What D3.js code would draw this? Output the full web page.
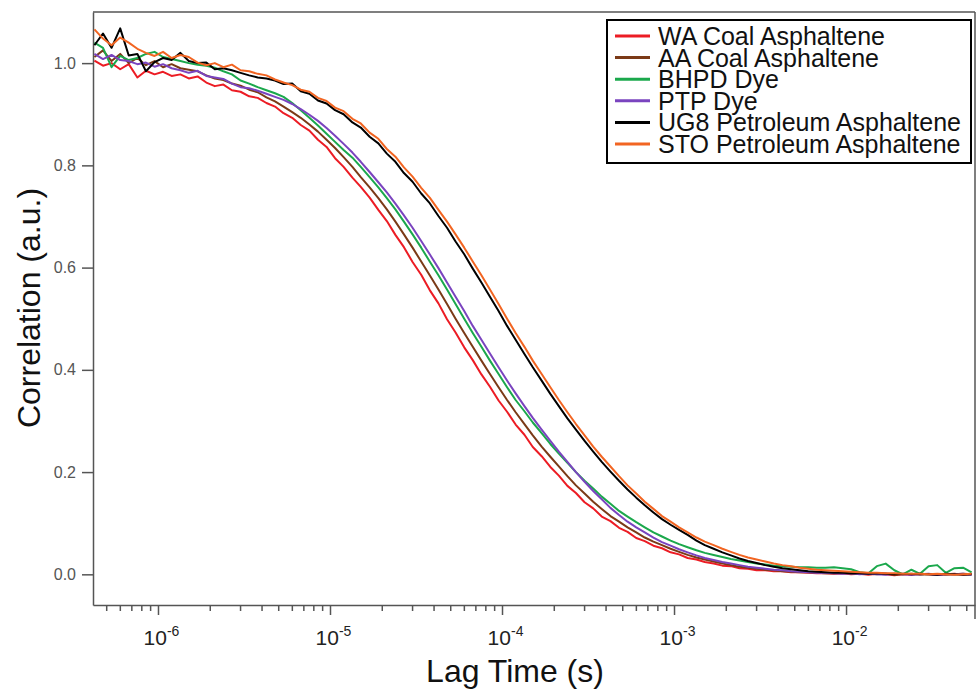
<!DOCTYPE html>
<meta charset="utf-8">
<style>
body { margin: 0; background: #fff; }
text { font-family: "Liberation Sans", Arial, sans-serif; }
</style>
<body>
<script src="https://d3js.org/d3.v7.min.js"></script>
<script>

    // lag times (s)
    var lagTime = [4.27e-7,4.79e-7,5.37e-7,6.03e-7,6.76e-7,7.59e-7,8.51e-7,9.55e-7,
        1.07e-6,1.20e-6,1.35e-6,1.51e-6,1.70e-6,1.91e-6,2.14e-6,2.40e-6,2.69e-6,3.02e-6,3.39e-6,3.80e-6,4.27e-6,4.79e-6,5.37e-6,6.03e-6,6.76e-6,7.59e-6,8.51e-6,9.55e-6,
        1.07e-5,1.20e-5,1.35e-5,1.51e-5,1.70e-5,1.91e-5,2.14e-5,2.40e-5,2.69e-5,3.02e-5,3.39e-5,3.80e-5,4.27e-5,4.79e-5,5.37e-5,6.03e-5,6.76e-5,7.59e-5,8.51e-5,9.55e-5,
        1.07e-4,1.20e-4,1.35e-4,1.51e-4,1.70e-4,1.91e-4,2.14e-4,2.40e-4,2.69e-4,3.02e-4,3.39e-4,3.80e-4,4.27e-4,4.79e-4,5.37e-4,6.03e-4,6.76e-4,7.59e-4,8.51e-4,9.55e-4,
        1.07e-3,1.20e-3,1.35e-3,1.51e-3,1.70e-3,1.91e-3,2.14e-3,2.40e-3,2.69e-3,3.02e-3,3.39e-3,3.80e-3,4.27e-3,4.79e-3,5.37e-3,6.03e-3,6.76e-3,7.59e-3,8.51e-3,9.55e-3,
        1.07e-2,1.20e-2,1.35e-2,1.51e-2,1.70e-2,1.91e-2,2.14e-2,2.40e-2,2.69e-2,3.02e-2,3.39e-2,3.80e-2,4.27e-2,4.79e-2,5.37e-2];

    var waCoal = [1.005,0.995,1.000,0.988,0.998,0.972,0.985,0.978,0.983,0.975,
        0.978,0.970,0.974,0.962,0.955,0.958,0.947,0.944,0.935,0.932,
        0.922,0.915,0.902,0.893,0.879,0.868,0.850,0.836,0.814,0.797,
        0.776,0.758,0.737,0.713,0.691,0.664,0.640,0.611,0.586,0.556,
        0.530,0.499,0.473,0.444,0.419,0.391,0.367,0.340,0.318,0.293,
        0.273,0.249,0.231,0.210,0.193,0.173,0.159,0.141,0.129,0.113,
        0.104,0.091,0.083,0.071,0.065,0.056,0.051,0.043,0.039,0.032,
        0.029,0.024,0.021,0.017,0.016,0.012,0.011,0.008,0.008,0.006,
        0.006,0.004,0.004,0.003,0.002,0.002,0.001,0.002,0.000,0.001,
        -0.001,0.001,0.000,-0.002,0.000,-0.001,0.001,0.000,-0.001,0.000,
        0.001,-0.001,0.000];

    var aaCoal = [1.012,1.025,1.004,1.018,1.000,1.010,0.996,1.004,0.992,0.998,
        0.990,0.987,0.984,0.976,0.970,0.967,0.960,0.956,0.948,0.943,
        0.933,0.925,0.915,0.904,0.893,0.880,0.866,0.850,0.834,0.816,
        0.797,0.777,0.757,0.736,0.714,0.690,0.665,0.639,0.612,0.585,
        0.557,0.529,0.500,0.472,0.445,0.418,0.392,0.366,0.341,0.317,
        0.294,0.272,0.250,0.230,0.211,0.192,0.174,0.158,0.142,0.128,
        0.114,0.103,0.092,0.082,0.072,0.064,0.057,0.050,0.044,0.038,
        0.033,0.029,0.025,0.021,0.018,0.015,0.013,0.011,0.009,0.008,
        0.006,0.005,0.004,0.004,0.003,0.002,0.002,0.002,0.001,0.001,
        0.001,0.000,0.001,-0.001,0.000,0.001,-0.001,0.000,0.000,-0.001,
        0.000,0.001,0.000];

    var bhpdDye = [1.040,1.030,0.992,1.014,1.006,1.010,1.018,1.022,1.012,1.008,
        1.004,1.000,0.997,0.995,0.991,0.984,0.978,0.966,0.960,0.953,
        0.947,0.941,0.934,0.922,0.908,0.893,0.878,0.862,0.846,0.830,
        0.815,0.797,0.777,0.757,0.736,0.714,0.690,0.665,0.639,0.612,
        0.585,0.557,0.529,0.500,0.472,0.445,0.418,0.392,0.366,0.341,
        0.319,0.297,0.276,0.255,0.236,0.218,0.200,0.183,0.168,0.152,
        0.138,0.124,0.113,0.102,0.092,0.082,0.074,0.066,0.059,0.053,
        0.047,0.042,0.038,0.034,0.030,0.027,0.024,0.021,0.019,0.017,
        0.016,0.015,0.014,0.014,0.013,0.013,0.014,0.012,0.010,0.004,
        0.002,0.016,0.021,0.008,0.000,0.009,0.001,0.016,0.018,0.003,
        0.012,0.013,0.004];

    var ptpDye = [1.018,1.008,1.016,1.006,1.004,0.998,1.001,0.993,0.998,0.990,
        0.986,0.981,0.985,0.975,0.972,0.969,0.960,0.953,0.951,0.946,
        0.940,0.934,0.928,0.920,0.910,0.899,0.887,0.873,0.858,0.842,
        0.825,0.807,0.787,0.767,0.747,0.725,0.702,0.678,0.652,0.626,
        0.599,0.571,0.543,0.515,0.486,0.459,0.432,0.405,0.379,0.354,
        0.329,0.306,0.283,0.261,0.240,0.220,0.200,0.181,0.163,0.147,
        0.130,0.116,0.103,0.092,0.082,0.072,0.063,0.056,0.049,0.043,
        0.037,0.032,0.028,0.024,0.021,0.018,0.015,0.013,0.011,0.009,
        0.008,0.006,0.005,0.004,0.003,0.003,0.002,0.001,0.002,0.000,
        0.001,0.000,-0.001,0.001,0.000,-0.001,0.000,0.001,-0.001,0.000,
        0.000,0.001,-0.001];

    var ug8Petroleum = [1.035,1.058,1.030,1.068,1.015,1.018,0.984,1.002,1.010,1.006,
        1.020,1.004,1.000,1.001,0.988,0.990,0.986,0.981,0.976,0.972,
        0.970,0.966,0.959,0.960,0.945,0.940,0.927,0.921,0.908,0.900,
        0.884,0.874,0.856,0.843,0.823,0.807,0.785,0.768,0.745,0.726,
        0.701,0.678,0.651,0.626,0.598,0.571,0.543,0.515,0.486,0.459,
        0.431,0.405,0.379,0.353,0.329,0.305,0.283,0.261,0.240,0.220,
        0.201,0.183,0.166,0.150,0.135,0.121,0.108,0.097,0.087,0.077,
        0.066,0.057,0.050,0.043,0.037,0.031,0.026,0.022,0.018,0.015,
        0.012,0.010,0.008,0.006,0.005,0.004,0.003,0.003,0.002,0.002,
        0.001,0.002,0.001,0.000,0.001,0.000,0.001,0.000,-0.001,0.001,
        0.000,-0.001,0.000];

    var stoPetroleum = [1.066,1.048,1.035,1.050,1.040,1.028,1.020,1.014,1.022,1.010,
        1.016,1.012,1.001,0.996,1.000,0.992,0.997,0.986,0.984,0.979,
        0.976,0.968,0.962,0.957,0.948,0.944,0.932,0.926,0.913,0.906,
        0.891,0.882,0.864,0.852,0.832,0.817,0.796,0.778,0.756,0.737,
        0.713,0.690,0.665,0.639,0.612,0.585,0.557,0.529,0.500,0.472,
        0.445,0.418,0.392,0.366,0.341,0.317,0.294,0.272,0.250,0.230,
        0.211,0.192,0.174,0.158,0.142,0.128,0.114,0.103,0.092,0.082,
        0.072,0.064,0.057,0.050,0.044,0.038,0.033,0.029,0.025,0.021,
        0.018,0.016,0.013,0.011,0.009,0.008,0.007,0.006,0.005,0.004,
        0.003,0.003,0.002,0.002,0.001,0.001,0.001,0.000,0.001,0.000,
        -0.001,0.000,0.001];

    var seriesNames = ["WA Coal Asphaltene", "AA Coal Asphaltene", "BHPD Dye", "PTP Dye",
        "UG8 Petroleum Asphaltene", "STO Petroleum Asphaltene"];
    var seriesValues = [waCoal, aaCoal, bhpdDye, ptpDye, ug8Petroleum, stoPetroleum];
    var seriesColors = ["#ec1c24", "#7b3a17", "#1ba84c", "#7a44bf", "#000000", "#f26522"];

    var yTicks = [0.0, 0.2, 0.4, 0.6, 0.8, 1.0];
    var xMajor = [1e-6, 1e-5, 1e-4, 1e-3, 1e-2];
    var xMajorExp = ["-6", "-5", "-4", "-3", "-2"];
    var xMinor = [5e-7,6e-7,7e-7,8e-7,9e-7,
        2e-6,3e-6,4e-6,5e-6,6e-6,7e-6,8e-6,9e-6,
        2e-5,3e-5,4e-5,5e-5,6e-5,7e-5,8e-5,9e-5,
        2e-4,3e-4,4e-4,5e-4,6e-4,7e-4,8e-4,9e-4,
        2e-3,3e-3,4e-3,5e-3,6e-3,7e-3,8e-3,9e-3,
        2e-2,3e-2,4e-2,5e-2];

    var w = 980, h = 690;
    var plotL = 93, plotR = 975, plotT = 12, plotB = 605;

    var svg = d3.select("body")
            .append("svg")
            .attr("width", w)
            .attr("height", h);

    var x = d3.scaleLog().domain([4.19e-7, 0.0562]).range([plotL, plotR]);
    var y = d3.scaleLinear().domain([-0.06, 1.1]).range([plotB, plotT]);

    // frame (top and right)
    svg.append("line").attr("x1", plotL).attr("x2", plotR).attr("y1", plotT).attr("y2", plotT)
            .attr("stroke", "#555").attr("stroke-width", 1.5);
    svg.append("line").attr("x1", plotR).attr("x2", plotR).attr("y1", plotT).attr("y2", 619)
            .attr("stroke", "#555").attr("stroke-width", 1.5);

    // y axis
    var yAxis = svg.append("g")
            .attr("transform", "translate(" + plotL + ",0)")
            .call(d3.axisLeft(y).tickValues(yTicks).tickFormat(d3.format(".1f"))
                .tickSize(11).tickSizeOuter(0).tickPadding(6));
    yAxis.selectAll("path, line").attr("stroke", "#555").attr("stroke-width", 1.5);
    yAxis.selectAll("text")
            .style("font-size", "16px")
            .style("font-family", "'Liberation Sans', Arial, sans-serif")
            .attr("fill", "#555");

    // x axis: minor ticks, then major ticks with labels
    var xAxisMinor = svg.append("g")
            .attr("transform", "translate(0," + plotB + ")")
            .call(d3.axisBottom(x).tickValues(xMinor).tickFormat("").tickSize(6).tickSizeOuter(0));
    xAxisMinor.selectAll("path, line").attr("stroke", "#555").attr("stroke-width", 1.5);

    var xAxisMajor = svg.append("g")
            .attr("transform", "translate(0," + plotB + ")")
            .call(d3.axisBottom(x).tickValues(xMajor).tickFormat("").tickSize(10).tickSizeOuter(0));
    xAxisMajor.select("path").remove();
    xAxisMajor.selectAll("line").attr("stroke", "#555").attr("stroke-width", 1.5);
    xAxisMajor.selectAll(".tick text").remove();
    xAxisMajor.selectAll(".tick").each(function(d, i) {
        var t = d3.select(this).append("text")
                .attr("y", 40)
                .attr("x", 3)
                .attr("text-anchor", "middle")
                .attr("fill", "#222")
                .style("font-family", "'Liberation Sans', Arial, sans-serif");
        t.append("tspan").style("font-size", "21px").text("10");
        t.append("tspan").style("font-size", "14px").attr("dy", -9).text(xMajorExp[i]);
    });

    // axis titles
    svg.append("text")
            .attr("x", 515).attr("y", 682)
            .attr("text-anchor", "middle")
            .style("font-size", "32px")
            .attr("fill", "#111")
            .text("Lag Time (s)");

    svg.append("text")
            .attr("transform", "translate(40,308) rotate(-90)")
            .attr("text-anchor", "middle")
            .style("font-size", "32px")
            .attr("fill", "#111")
            .text("Correlation (a.u.)");

    // curves
    var line = d3.line()
            .x(function(d, i) { return x(lagTime[i]); })
            .y(function(d) { return y(d); });

    svg.append("g").selectAll("path")
            .data(seriesValues)
            .enter()
            .append("path")
            .attr("d", line)
            .attr("fill", "none")
            .attr("stroke", function(d, i) { return seriesColors[i]; })
            .attr("stroke-width", 2)
            .attr("stroke-linejoin", "round");

    // legend
    var legend = svg.append("g");
    legend.append("rect")
            .attr("x", 607).attr("y", 20)
            .attr("width", 364).attr("height", 143)
            .attr("fill", "#fff")
            .attr("stroke", "#000")
            .attr("stroke-width", 2);

    var item = legend.selectAll("g.item")
            .data(seriesNames)
            .enter()
            .append("g")
            .attr("class", "item")
            .attr("transform", function(d, i) { return "translate(0," + (45 + i * 21.6) + ")"; });

    item.append("line")
            .attr("x1", 615).attr("x2", 650)
            .attr("y1", -9).attr("y2", -9)
            .attr("stroke", function(d, i) { return seriesColors[i]; })
            .attr("stroke-width", 3);

    item.append("text")
            .attr("x", 658).attr("y", 0)
            .style("font-size", "25px")
            .attr("fill", "#111")
            .text(function(d) { return d; });

</script>
